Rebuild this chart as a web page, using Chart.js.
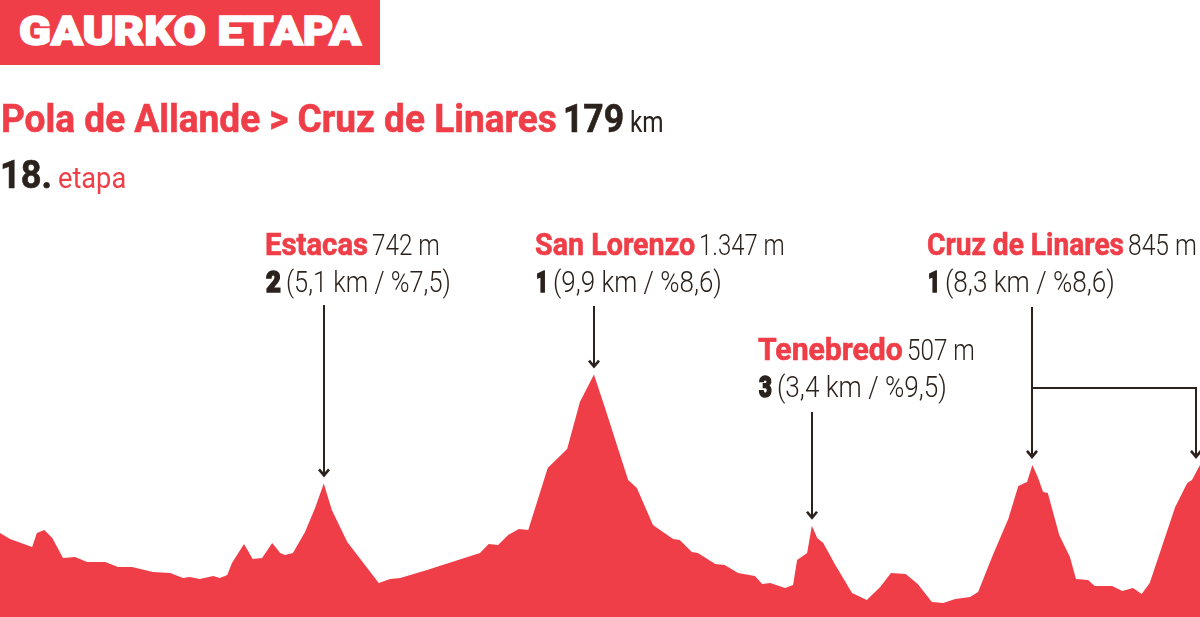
<!DOCTYPE html>
<html>
<head>
<meta charset="utf-8">
<script src="https://cdn.jsdelivr.net/npm/chart.js@4/dist/chart.umd.min.js"></script>
<style>
  body { margin: 0; background: #fff; }
  #wrap { position: relative; width: 1200px; height: 617px; overflow: hidden; }
  #profile { position: absolute; left: 0; top: 0; }
  #header { position: absolute; left: 0; top: 0; width: 380px; height: 65px; background: #ef3e48; }
  .t { position: absolute; white-space: nowrap; line-height: 1; transform-origin: 0 0; font-family: Roboto, "Liberation Sans", sans-serif; }
  .heavy { -webkit-text-stroke: 1.6px currentColor; }
  .semi { -webkit-text-stroke: 0.6px currentColor; }
  .mark { display: inline-block; width: 0; height: 0; vertical-align: baseline; }
</style>
</head>
<body>
<div id="wrap">
  <canvas id="profile" width="1200" height="617"></canvas>
  <div id="header"></div>
</div>
<script>
// stage profile: distance (km) and altitude (m)
const kmPoints = [0, 1.5, 4.8, 5.5, 6.6, 7.8, 9.4, 11.2, 13.0, 15.7, 17.6, 19.7, 22.8, 25.4, 27.3, 28.3, 29.8, 31.8, 32.8, 33.9,
  34.6, 36.4, 37.7, 39.1, 40.6, 41.8, 42.5, 43.7, 45.5, 47.0, 48.3, 49.5, 51.8, 56.5, 58.2, 59.7, 63.7, 71.6, 72.9, 74.3,
  75.8, 77.4, 78.8, 81.7, 84.6, 86.5, 88.6, 90.2, 93.7, 95.0, 97.4, 100.4, 101.4, 103.2, 104.1, 106.7, 108.1, 110.1, 112.6, 113.7,
  114.9, 117.1, 118.3, 118.9, 120.4, 121.1, 121.9, 122.8, 124.6, 127.1, 129.3, 131.3, 132.9, 135.1, 136.9, 139.0, 140.7, 142.5, 144.7, 145.9,
  148.1, 150.4, 151.9, 153.2, 154.0, 154.8, 155.6, 156.3, 158.0, 159.6, 160.5, 162.3, 163.3, 165.9, 167.4, 169.0, 170.3, 171.5, 173.3, 175.3,
  177.1, 177.8, 179];
const altitude = [467, 433, 389, 467, 483, 439, 328, 333, 306, 306, 278, 278, 250, 244, 217, 222, 211, 228, 217, 233,
  300, 406, 322, 328, 411, 356, 344, 356, 472, 606, 742, 594, 417, 189, 211, 217, 261, 356, 406, 400,
  456, 489, 483, 828, 933, 1194, 1347, 1167, 761, 717, 511, 433, 428, 361, 356, 294, 289, 244, 228, 183,
  189, 161, 178, 317, 356, 507, 439, 411, 289, 133, 94, 167, 244, 239, 183, 83, 78, 100, 111, 139,
  344, 544, 728, 750, 845, 778, 694, 689, 456, 333, 211, 206, 172, 172, 144, 161, 128, 189, 389, 611,
  744, 761, 845];

// climbs
const climbNames = ["Estacas", "San Lorenzo", "Tenebredo", "Cruz de Linares"];
const climbKm = [48.3, 88.6, 121.1, 154.0];
const climbHeight = [742, 1347, 507, 845];
const climbCategory = ["2", "1", "3", "1"];
const climbLength = ["5,1", "9,9", "3,4", "8,3"];
const climbGrade = ["7,5", "8,6", "9,5", "8,6"];
const finishKm = 179;
const stageKm = 179;
const stageNumber = 18;

const red = "#ef3e48";
const dark = "#2b221d";

function fmtHeight(h) {
  return String(h).replace(/\B(?=(\d{3})+(?!\d))/g, ".") + " m";
}

// text helper: x, baseline, target width
function put(parent, text, x, baseline, width, size, weight, color, cls) {
  const s = document.createElement("span");
  s.className = "t" + (cls ? " " + cls : "");
  s.style.fontSize = size + "px";
  s.style.fontWeight = weight;
  s.style.color = color;
  s.style.left = x + "px";
  s.textContent = text;
  const m = document.createElement("span");
  m.className = "mark";
  s.appendChild(m);
  parent.appendChild(s);
  s.style.top = (baseline - m.offsetTop) + "px";
  if (width) s.style.transform = "scaleX(" + (width / s.offsetWidth) + ")";
}

const wrap = document.getElementById("wrap");
put(document.getElementById("header"), "GAURKO ETAPA", 19, 45, 342, 40, 900, "#fff", "heavy");
put(wrap, "Pola de Allande > Cruz de Linares", 1, 132, 556, 39, 700, red, "semi");
put(wrap, String(stageKm), 563, 132, 61, 39, 700, dark, "semi");
put(wrap, "km", 630, 132, 34, 30, 400, dark);
put(wrap, stageNumber + ".", 0, 188, 52, 39, 700, dark, "semi");
put(wrap, "etapa", 58, 188, 68, 30, 400, red);

// label layout (left x, row baseline, widths of pieces)
const labelLayout = [
  { x: 265, b: 255, w: [103, 68, 17, 165] },
  { x: 535, b: 255, w: [160, 86, 14, 169] },
  { x: 758, b: 360, w: [145, 68, 15, 170] },
  { x: 927, b: 255, w: [197, 69, 14, 170] }
];
climbNames.forEach((name, i) => {
  const L = labelLayout[i];
  put(wrap, name, L.x, L.b, L.w[0], 31, 700, red, "semi");
  put(wrap, fmtHeight(climbHeight[i]), L.x + L.w[0] + 4, L.b, L.w[1], 30, 300, dark);
  put(wrap, climbCategory[i], L.x + 1, L.b + 37, L.w[2] - 2, 29, 900, dark, "heavy");
  put(wrap, "(" + climbLength[i] + " km / %" + climbGrade[i] + ")", L.x + L.w[2] + 4, L.b + 37, L.w[3], 30, 300, dark);
});

const arrowTop = [305, 306, 412, 307];
const branchY = 388;

const arrows = {
  id: "arrows",
  afterDatasetsDraw(chart) {
    const { ctx, scales: { x, y } } = chart;
    ctx.save();
    ctx.strokeStyle = dark;
    ctx.lineWidth = 2;
    const head = (px, tip) => {
      ctx.beginPath();
      ctx.lineWidth = 2.6;
      ctx.moveTo(px - 5, tip - 6);
      ctx.lineTo(px, tip);
      ctx.lineTo(px + 5, tip - 6);
      ctx.stroke();
      ctx.lineWidth = 2;
    };
    climbKm.forEach((km, i) => {
      const px = Math.round(x.getPixelForValue(km));
      const tip = y.getPixelForValue(climbHeight[i]) - 8;
      ctx.beginPath();
      ctx.moveTo(px, arrowTop[i]);
      ctx.lineTo(px, tip);
      ctx.stroke();
      head(px, tip);
    });
    // last climb is also the finish
    const px0 = Math.round(x.getPixelForValue(climbKm[3]));
    const px1 = Math.min(Math.round(x.getPixelForValue(finishKm)), chart.width - 4);
    const tip1 = y.getPixelForValue(climbHeight[3]) - 8;
    ctx.beginPath();
    ctx.moveTo(px0, branchY);
    ctx.lineTo(px1, branchY);
    ctx.lineTo(px1, tip1);
    ctx.stroke();
    head(px1, tip1);
    ctx.restore();
  }
};

new Chart(document.getElementById("profile"), {
  type: "line",
  data: {
    datasets: [{
      data: kmPoints.map((k, i) => ({ x: k, y: altitude[i] })),
      backgroundColor: red,
      borderWidth: 0,
      pointRadius: 0,
      fill: "start",
      tension: 0
    }]
  },
  options: {
    responsive: false,
    animation: false,
    layout: { padding: 0 },
    scales: {
      x: { type: "linear", min: 0, max: finishKm, display: false },
      y: { min: 0, max: 3428, display: false }
    },
    plugins: { legend: { display: false }, tooltip: { enabled: false } }
  },
  plugins: [arrows]
});
</script>
</body>
</html>
